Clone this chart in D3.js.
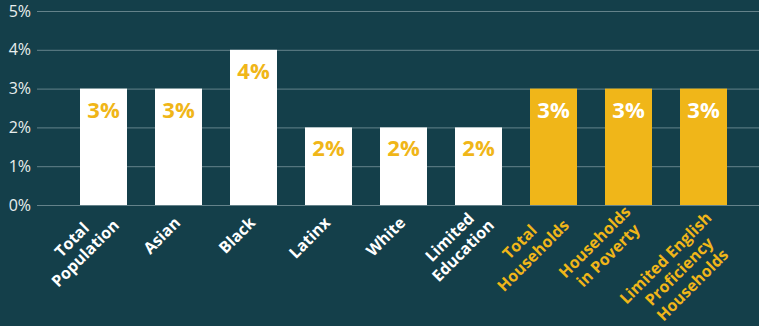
<!DOCTYPE html>
<html>
<head>
<meta charset="utf-8">
<script src="https://cdn.jsdelivr.net/npm/d3@7"></script>
<style>
  html, body { margin: 0; padding: 0; background: #143f4a; }
  svg { display: block; }
  text { font-family: "Open Sans", sans-serif; }
</style>
</head>
<body>
<svg id="chart" width="759" height="326"></svg>
<script>
const categories = [
  ["Total", "Population"],
  ["Asian"],
  ["Black"],
  ["Latinx"],
  ["White"],
  ["Limited", "Education"],
  ["Total", "Households"],
  ["Households", "in Poverty"],
  ["Limited English", "Proficiency", "Households"]
];
const values = [0.03, 0.03, 0.04, 0.02, 0.02, 0.02, 0.03, 0.03, 0.03];
const groups = ["pop", "pop", "pop", "pop", "pop", "pop", "hh", "hh", "hh"];
const valueLabels = ["3%", "3%", "4%", "2%", "2%", "2%", "3%", "3%", "3%"];
const yTicks = [0, 0.01, 0.02, 0.03, 0.04, 0.05];

const W = 759, H = 326;
const BG = "#143f4a", GOLD = "#f0b619", WHITE = "#ffffff";
const svg = d3.select("#chart");
svg.append("rect").attr("width", W).attr("height", H).attr("fill", BG);

const x = d3.scaleBand()
  .domain(d3.range(categories.length))
  .range([66, 741])
  .paddingInner(28 / 75)
  .paddingOuter(14 / 75);
const y = d3.scaleLinear().domain([0, 0.05]).range([205, 11]);

// gridlines
const yAxis = d3.axisLeft(y)
  .tickValues(yTicks)
  .tickFormat(d3.format(".0%"))
  .tickSize(-(W - 37))
  .tickPadding(6);
const gy = svg.append("g").attr("transform", "translate(37,0)").call(yAxis);
gy.select(".domain").remove();
gy.selectAll(".tick line").attr("stroke", "#7f9aa0").attr("stroke-width", 1).attr("opacity", 0.75);
gy.selectAll(".tick text")
  .attr("fill", "#e8eeee")
  .attr("font-size", 16)
  .attr("font-weight", 400)
  .attr("x", -6);

// bars
svg.append("g").selectAll("rect")
  .data(values)
  .join("rect")
  .attr("x", (d, i) => x(i))
  .attr("y", d => y(d))
  .attr("width", x.bandwidth())
  .attr("height", d => y(0) - y(d))
  .attr("fill", (d, i) => groups[i] === "hh" ? GOLD : WHITE);

// value labels
svg.append("g").selectAll("text")
  .data(values)
  .join("text")
  .attr("x", (d, i) => x(i) + x.bandwidth() / 2)
  .attr("y", d => y(d) + 29)
  .attr("text-anchor", "middle")
  .attr("font-size", 22)
  .attr("font-weight", 700)
  .attr("fill", (d, i) => groups[i] === "hh" ? WHITE : GOLD)
  .text((d, i) => valueLabels[i]);

// category labels (rotated)
const lh = 19;
const lab = svg.append("g").selectAll("g")
  .data(categories)
  .join("g")
  .attr("transform", (d, i) => `translate(${x(i) + x.bandwidth() / 2},221) rotate(-45)`);

lab.each(function(lines, i) {
  const g = d3.select(this);
  const n = lines.length;
  const t = g.append("text")
    .attr("font-size", 16)
    .attr("font-weight", 700)
    .attr("fill", groups[i] === "hh" ? GOLD : WHITE)
    .attr("text-anchor", "middle");
  const tsp = t.selectAll("tspan").data(lines).join("tspan").text(d => d);
  let maxW = 0;
  tsp.each(function() { maxW = Math.max(maxW, this.getComputedTextLength()); });
  const endX = n > 1 ? 8 : 0;
  const cx = endX - maxW / 2;
  const first = n === 3 ? 5 : 4 - (n - 1) * 7.5;
  tsp.attr("x", cx).attr("y", (d, k) => first + k * lh);
});
</script>
</body>
</html>
